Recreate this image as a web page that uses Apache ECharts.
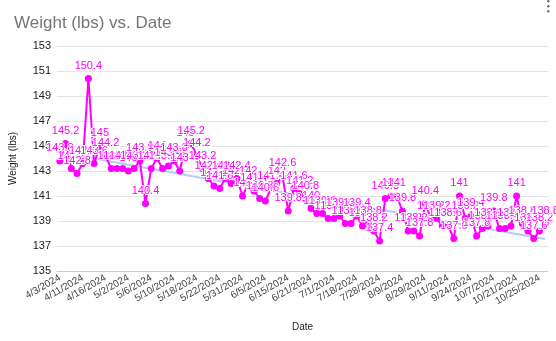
<!DOCTYPE html>
<html>
<head>
<meta charset="utf-8">
<script src="https://cdn.jsdelivr.net/npm/echarts@6/dist/echarts.min.js"></script>
<style>
  html, body { margin: 0; padding: 0; background: #ffffff; }
  #chart { width: 556px; height: 341px; }
</style>
</head>
<body>
<div id="chart"></div>
<script>
// Weigh-in dates (one category per entry)
const dates = [
  '4/3/2024', '4/5/2024', '4/7/2024', '4/9/2024',
  '4/11/2024', '4/12/2024', '4/13/2024', '4/15/2024',
  '4/16/2024', '4/20/2024', '4/24/2024', '4/28/2024',
  '5/2/2024', '5/3/2024', '5/4/2024', '5/5/2024',
  '5/6/2024', '5/7/2024', '5/8/2024', '5/9/2024',
  '5/10/2024', '5/12/2024', '5/14/2024', '5/16/2024',
  '5/18/2024', '5/19/2024', '5/20/2024', '5/21/2024',
  '5/22/2024', '5/24/2024', '5/27/2024', '5/29/2024',
  '5/31/2024', '6/1/2024', '6/3/2024', '6/4/2024',
  '6/5/2024', '6/8/2024', '6/11/2024', '6/13/2024',
  '6/15/2024', '6/17/2024', '6/18/2024', '6/20/2024',
  '6/21/2024', '6/24/2024', '6/26/2024', '6/28/2024',
  '7/1/2024', '7/5/2024', '7/9/2024', '7/14/2024',
  '7/18/2024', '7/20/2024', '7/23/2024', '7/26/2024',
  '7/28/2024', '7/31/2024', '8/3/2024', '8/6/2024',
  '8/9/2024', '8/14/2024', '8/19/2024', '8/24/2024',
  '8/29/2024', '9/1/2024', '9/4/2024', '9/8/2024',
  '9/11/2024', '9/14/2024', '9/17/2024', '9/21/2024',
  '9/24/2024', '9/27/2024', '9/30/2024', '10/3/2024',
  '10/7/2024', '10/11/2024', '10/14/2024', '10/18/2024',
  '10/21/2024', '10/22/2024', '10/23/2024', '10/24/2024',
  '10/25/2024', '10/28/2024'
];

// Recorded weight in pounds for each date
const weights = [
  143.8, 145.2, 143.2, 142.8,
  143.6, 150.4, 143.6, 145.0,
  144.2, 143.2, 143.2, 143.2,
  143.0, 143.2, 143.8, 140.4,
  143.2, 144.0, 143.2, 143.4,
  143.8, 143.0, 145.0, 145.2,
  144.2, 143.2, 142.4, 141.8,
  141.6, 142.4, 142.0, 142.4,
  141.0, 142.0, 141.4, 140.8,
  140.6, 141.6, 142.0, 142.6,
  139.8, 141.6, 141.2, 140.8,
  140.0, 139.6, 139.6, 139.2,
  139.2, 139.4, 138.8, 138.8,
  139.4, 138.6, 138.8, 138.2,
  137.4, 140.8, 141.0, 141.0,
  139.8, 138.2, 138.2, 137.8,
  140.4, 139.2, 139.2, 138.6,
  138.6, 137.6, 141.0, 139.2,
  139.4, 137.8, 138.4, 138.6,
  139.8, 138.4, 138.4, 138.6,
  141.0, 138.8, 138.2, 137.6,
  138.2, 138.8
];

// Value axis range and step
const yMin = 135;
const yMax = 153;
const yStep = 2;

// Least-squares linear trend over the entries
const n = weights.length;
let sx = 0, sy = 0, sxx = 0, sxy = 0;
weights.forEach((v, i) => { sx += i; sy += v; sxx += i * i; sxy += i * v; });
const slope = (n * sxy - sx * sy) / (n * sxx - sx * sx);
const intercept = (sy - slope * sx) / n;
const trend = weights.map((_, i) => +(intercept + slope * i).toFixed(3));

const FONT = '"Liberation Sans", Arial, sans-serif';
const chart = echarts.init(document.getElementById('chart'), null, { renderer: 'canvas' });

chart.setOption({
  animation: false,
  backgroundColor: '#ffffff',
  textStyle: { fontFamily: FONT },
  title: {
    text: 'Weight (lbs) vs. Date',
    left: 9,
    top: 10,
    textStyle: { fontFamily: FONT, fontSize: 17, fontWeight: 'normal', color: '#757575' }
  },
  graphic: [
    { type: 'circle', left: 547, top: 0, shape: { r: 1.3 }, style: { fill: '#757575' } },
    { type: 'circle', left: 547, top: 5, shape: { r: 1.3 }, style: { fill: '#757575' } },
    { type: 'circle', left: 547, top: 10, shape: { r: 1.3 }, style: { fill: '#757575' } }
  ],
  grid: { left: 57, right: 8, top: 46, bottom: 70, containLabel: false },
  xAxis: {
    type: 'category',
    data: dates,
    boundaryGap: true,
    name: 'Date',
    nameLocation: 'middle',
    nameGap: 51,
    nameTextStyle: { fontFamily: FONT, fontSize: 10, color: '#222222' },
    axisLine: { show: true, lineStyle: { color: '#cccccc', width: 1 } },
    axisTick: { show: false },
    splitLine: { show: false },
    axisLabel: {
      interval: 3,
      rotate: 30,
      margin: 6,
      fontFamily: FONT,
      fontSize: 10,
      color: '#444444'
    }
  },
  yAxis: {
    type: 'value',
    min: yMin,
    max: yMax,
    interval: yStep,
    name: 'Weight (lbs)',
    nameLocation: 'middle',
    nameGap: 39,
    nameTextStyle: { fontFamily: FONT, fontSize: 10, color: '#222222' },
    axisLine: { show: false },
    axisTick: { show: false },
    splitLine: { show: true, lineStyle: { color: '#e4e4e4', width: 1 } },
    axisLabel: { margin: 6, fontFamily: FONT, fontSize: 11, color: '#222222' }
  },
  series: [
    {
      name: 'Trend',
      type: 'line',
      data: trend,
      showSymbol: false,
      silent: true,
      z: 1,
      lineStyle: { color: '#b3cdf4', width: 2 }
    },
    {
      name: 'Weight',
      type: 'line',
      data: weights,
      z: 3,
      symbol: 'circle',
      symbolSize: 7,
      showAllSymbol: true,
      lineStyle: { color: '#ff00ff', width: 2 },
      itemStyle: { color: '#ff00ff' },
      label: {
        show: true,
        position: 'top',
        distance: 4,
        fontFamily: FONT,
        fontSize: 11,
        color: '#ff00ff',
        textBorderColor: '#ffffff',
        textBorderWidth: 2
      },
      labelLayout: { hideOverlap: false }
    }
  ]
});
</script>
</body>
</html>
